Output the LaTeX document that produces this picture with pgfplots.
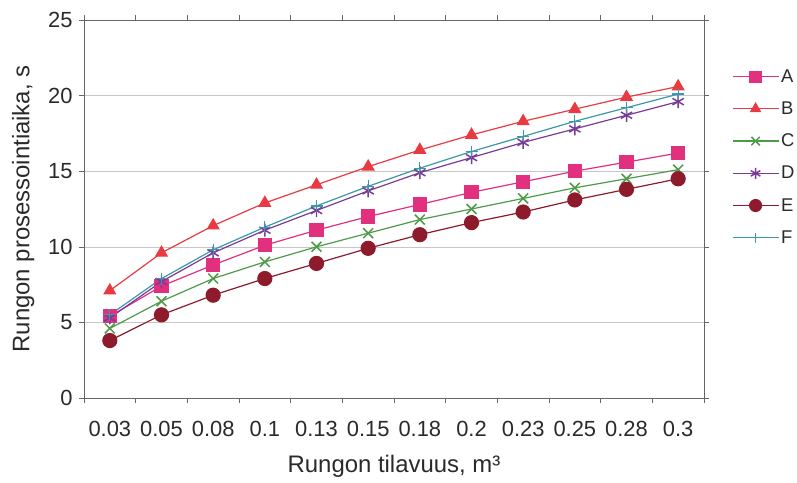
\documentclass[border=0pt]{standalone}
\usepackage{pgfplots}
\pgfplotsset{compat=1.18}
\usepackage{fontspec}
\setmainfont{Liberation Sans}
\definecolor{cA}{HTML}{E0307E}
\definecolor{cB}{HTML}{E83A40}
\definecolor{cC}{HTML}{4E9A48}
\definecolor{cD}{HTML}{7A3A98}
\definecolor{cE}{HTML}{8E1B2C}
\definecolor{cF}{HTML}{3A98A8}
\definecolor{txt}{HTML}{2A2A2A}
\begin{document}
\begin{tikzpicture}
\path[use as bounding box] (-84bp,-85bp) rectangle (713bp,398bp);
\begin{axis}[
  scale only axis, width=620bp, height=378bp,
  at={(0,0)}, anchor=south west,
  xmin=-0.5, xmax=11.5, ymin=0, ymax=25,
  xtick={0,...,11},
  xticklabels={0.03,0.05,0.08,0.1,0.13,0.15,0.18,0.2,0.23,0.25,0.28,0.3},
  major x tick style={draw=none},
  minor xtick={-0.5,0.5,...,11.5},
  ytick={0,5,...,25},
  tick align=outside,
  major tick length=5bp, minor tick length=5bp,
  tick style={color=gray!80!black, line width=0.6pt},
  axis line style={gray!80!black, line width=0.8pt},
  ymajorgrids, grid style={gray!45, line width=0.5pt},
  tick label style={font=\fontsize{22}{24}\selectfont\color{txt}},
  label style={font=\fontsize{24}{26}\selectfont\color{txt}},
  /pgf/number format/assume math mode=true,
  xticklabel shift=15bp,
  yticklabel shift=3bp,
  xlabel={Rungon tilavuus, m³},
  ylabel={Rungon prosessointiaika, s},
  xlabel style={at={(axis description cs:0.5,-0.18)}, anchor=center},
  ylabel style={at={(axis description cs:-0.098,0.5)}, anchor=center},
  legend style={at={(1.04,0.88)}, anchor=north west, draw=none, fill=none,
    font=\fontsize{18.5}{20}\selectfont\color{txt}, row sep=14bp,
    nodes={inner sep=2bp}},
  legend cell align=left,
  legend image code/.code={
    \draw[mark repeat=2,mark phase=2,#1,every mark/.append style={scale=0.85}] plot coordinates {(0bp,0bp)(23bp,0bp)(46bp,0bp)};},
  every axis plot/.append style={line width=1.2pt},
]
\addplot[cA, mark=square*, mark size=6.5bp, mark options={solid}] coordinates {
(0,5.4)(1,7.4)(2,8.8)(3,10.1)(4,11.1)(5,12.0)(6,12.8)(7,13.6)(8,14.3)(9,15.0)(10,15.6)(11,16.2)};
\addlegendentry{A}
\addplot[cB, mark=triangle*, mark size=6.5bp] coordinates {
(0,7.1)(1,9.6)(2,11.4)(3,12.9)(4,14.1)(5,15.3)(6,16.4)(7,17.4)(8,18.3)(9,19.1)(10,19.9)(11,20.6)};
\addlegendentry{B}
\addplot[cC, mark=x, mark size=7bp, mark options={line width=1.5pt}] coordinates {
(0,4.6)(1,6.4)(2,7.9)(3,9.0)(4,10.0)(5,10.9)(6,11.8)(7,12.5)(8,13.2)(9,13.9)(10,14.5)(11,15.1)};
\addlegendentry{C}
\addplot[cD, mark=asterisk, mark size=6.5bp, mark options={line width=1.5pt}] coordinates {
(0,5.3)(1,7.7)(2,9.6)(3,11.1)(4,12.4)(5,13.7)(6,14.9)(7,15.9)(8,16.9)(9,17.8)(10,18.7)(11,19.6)};
\addlegendentry{D}
\addplot[cE, mark=*, mark size=7bp] coordinates {
(0,3.8)(1,5.5)(2,6.8)(3,7.9)(4,8.9)(5,9.9)(6,10.8)(7,11.6)(8,12.3)(9,13.1)(10,13.8)(11,14.5)};
\addlegendentry{E}
\addplot[cF, mark=+, mark size=6bp, mark options={line width=1.2pt}] coordinates {
(0,5.5)(1,7.9)(2,9.8)(3,11.3)(4,12.7)(5,14.0)(6,15.2)(7,16.3)(8,17.3)(9,18.3)(10,19.2)(11,20.1)};
\addlegendentry{F}
\end{axis}
\end{tikzpicture}
\end{document}
